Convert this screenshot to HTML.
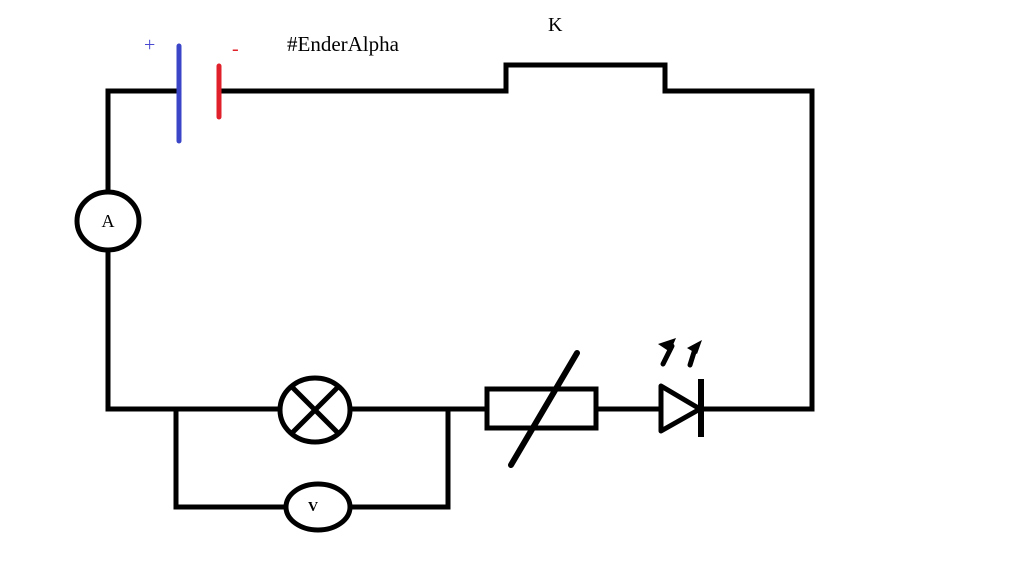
<!DOCTYPE html>
<html><head><style>body{margin:0;background:#fff}svg{display:block}</style></head><body>
<svg width="1024" height="575" viewBox="0 0 1024 575" xmlns="http://www.w3.org/2000/svg">
<rect width="1024" height="575" fill="#fff"/>
<g fill="none" stroke="#000" stroke-width="5">
<path d="M179 91 H108 V192"/>
<path d="M108 250 V409 H280"/>
<path d="M219 91 H506 V65 H665 V91 H812 V409 H701"/>
<path d="M350 409 H487"/>
<path d="M596 409 H661"/>
<path d="M176 409 V507 H286"/>
<path d="M350 507 H448 V409"/>
<ellipse cx="108" cy="221" rx="31" ry="29" fill="#fff"/>
<ellipse cx="315" cy="410" rx="35" ry="32" fill="#fff"/>
<path d="M291 386 L339 434 M339 386 L291 434"/>
<ellipse cx="318" cy="507" rx="32" ry="23" fill="#fff"/>
<rect x="487" y="389" width="109" height="39"/>
<path d="M511 465 L577 353" stroke-width="6" stroke-linecap="round"/>
<path d="M661 386 L700 409 L661 431 Z" stroke-linejoin="round"/>
<path d="M701 379 V437" stroke-width="6"/>
<path d="M663 364 L672 346 M690 365 L695 349" stroke-width="5" stroke-linecap="round"/>
</g>
<path d="M658 344 L676 338 L670 352 Z M687 348 L702 340 L697 354 Z" fill="#000"/>
<path d="M179 46 V141" stroke="#3a45c8" stroke-width="5" stroke-linecap="round"/>
<path d="M219 66 V117" stroke="#e0202a" stroke-width="5" stroke-linecap="round"/>
<g font-family="Liberation Serif, serif" fill="#000">
<text x="144" y="51" font-size="20" fill="#4a4ad0">+</text>
<text x="232" y="55" font-size="20" fill="#e0202a">-</text>
<text x="287" y="51" font-size="21">#EnderAlpha</text>
<text x="548" y="31" font-size="20">K</text>
<text x="108" y="227" font-size="18" text-anchor="middle">A</text>
<text x="313" y="511" font-size="14" font-weight="bold" text-anchor="middle">V</text>
</g>
</svg>
</body></html>
